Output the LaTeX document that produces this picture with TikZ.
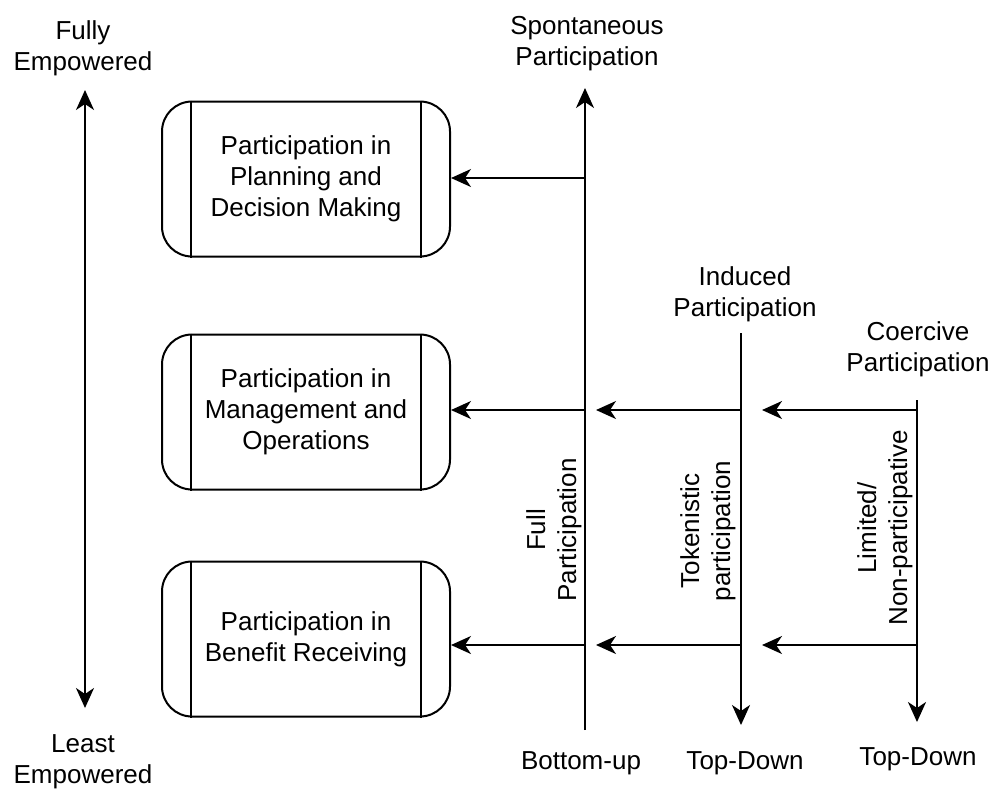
\documentclass[tikz,border=0pt]{standalone}
\usepackage{fontspec}
\setmainfont{Liberation Sans}
\usetikzlibrary{arrows.meta,positioning}

\begin{document}
\begin{tikzpicture}[x=0.5pt,y=-0.5pt,
line width=1pt,
every node/.style={font=\fontsize{13}{15.5}\selectfont,align=center,inner sep=0pt},
level box/.style={draw,rounded corners=15pt,minimum width=144pt,minimum height=77.5pt},
tip/.style={-{Stealth[length=10pt,width=9pt,inset=3pt]}},
both tips/.style={{Stealth[length=10pt,width=9pt,inset=3pt]}-{Stealth[length=10pt,width=9pt,inset=3pt]}},
side label/.style={rotate=90}]
\useasboundingbox (0,0) rectangle (995,789);

\node[level box] (plan) at (306,179) {Participation in\\Planning and\\Decision Making};
\node[level box] (mgmt) at (306,412) {Participation in\\Management and\\Operations};
\node[level box] (bene) at (306,639) {Participation in\\Benefit Receiving};
\foreach \b in {plan,mgmt,bene}{
  \draw ([xshift=15pt]\b.north west) -- ([xshift=15pt]\b.south west);
  \draw ([xshift=-15pt]\b.north east) -- ([xshift=-15pt]\b.south east);
}

\coordinate (eTop) at (85,90);
\coordinate (eBot) at (85,708);
\draw[both tips] (eBot) -- (eTop);
\node (fully) at (83,48) {Fully\\Empowered};
\node (least) at (83,762) {Least\\Empowered};

\coordinate (sTop) at (585,88);
\coordinate (sBot) at (585,730);
\coordinate (s1) at (585,178);
\coordinate (s2) at (585,410);
\coordinate (s3) at (585,645);
\draw[tip] (sBot) -- (sTop);
\draw[tip] (s1) -- (s1 -| plan.east);
\draw[tip] (s2) -- (s2 -| mgmt.east);
\draw[tip] (s3) -- (s3 -| bene.east);
\node (spont) at (587,44) {Spontaneous\\Participation};
\node (bottomup) at (581,763) {Bottom-up};
\node[side label] (full) at (554,530) {Full\\Participation};

\coordinate (iTop) at (741,333);
\coordinate (iBot) at (741,725);
\coordinate (i2) at (741,410);
\coordinate (i3) at (741,645);
\draw[tip] (iTop) -- (iBot);
\draw[tip] (i2) -- ([xshift=5.5pt]s2);
\draw[tip] (i3) -- ([xshift=5.5pt]s3);
\node (induced) at (745,294) {Induced\\Participation};
\node (topdown1) at (745,763) {Top-Down};
\node[side label] (token) at (708,531) {Tokenistic\\participation};

\coordinate (cTop) at (917,400);
\coordinate (cBot) at (917,722);
\coordinate (c2) at (917,410);
\coordinate (c3) at (917,645);
\draw[tip] (cTop) -- (cBot);
\draw[tip] (c2) -- ([xshift=10.5pt]i2);
\draw[tip] (c3) -- ([xshift=10.5pt]i3);
\node (coercive) at (918,349) {Coercive\\Participation};
\node (topdown2) at (918,759) {Top-Down};
\node[side label] (limited) at (885,528) {Limited/\\Non-participative};
\end{tikzpicture}
\end{document}
